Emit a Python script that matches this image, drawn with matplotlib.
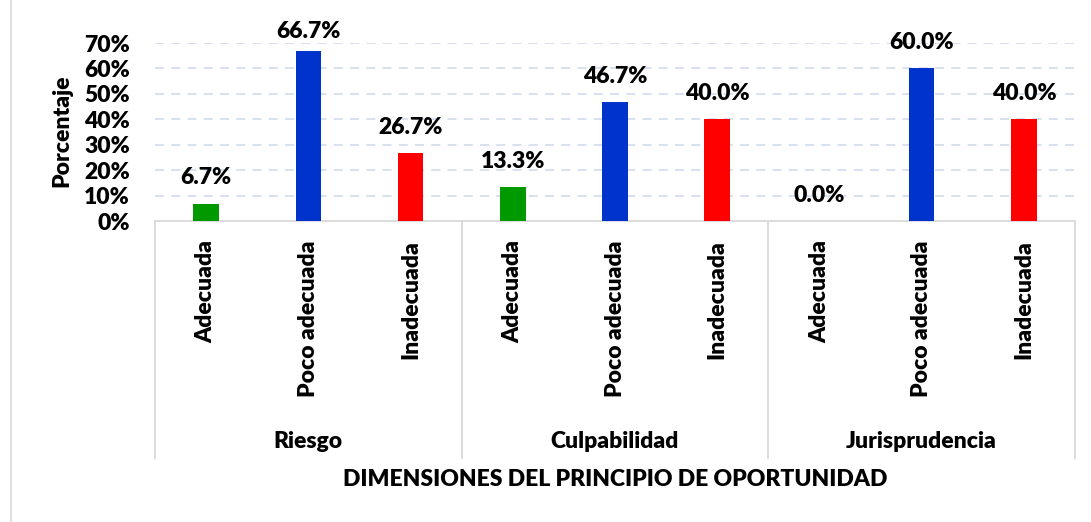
import matplotlib
matplotlib.use("Agg")
import matplotlib.pyplot as plt
from matplotlib.patches import Rectangle
import matplotlib.transforms as mtransforms

groups = ["Riesgo", "Culpabilidad", "Jurisprudencia"]
levels = ["Adecuada", "Poco adecuada", "Inadecuada"]
values = [6.7, 66.7, 26.7, 13.3, 46.7, 40.0, 0.0, 60.0, 40.0]
level_colors = ["#009900", "#0033CC", "#FF0000"]
yticks = [0, 10, 20, 30, 40, 50, 60, 70]
ylabel = "Porcentaje"
xlabel = "DIMENSIONES DEL PRINCIPIO DE OPORTUNIDAD"

plt.rcParams['font.family'] = ['Lato', 'DejaVu Sans']
FW = "heavy"
plt.rcParams['font.weight'] = FW
FS = 16.5

W, H = 1091, 522
fig = plt.figure(figsize=(W / 100, H / 100), dpi=100)
ax = fig.add_axes([155 / W, 1 - 221 / H, 920 / W, 178 / H])

# chart border
fig.patches.append(Rectangle((10.5 / W, -0.05), 1.2, 1.2, transform=fig.transFigure,
                             fill=False, edgecolor="#D9D9D9", lw=1.2))

n = len(levels)
xs = list(range(len(values)))
colors = [level_colors[i % n] for i in xs]
ax.bar(xs, values, width=0.25, color=colors, zorder=3)

YMAX = 70
px_per_unit = 178 / YMAX
label_gap = 26 / px_per_unit       # label centre above bar top
label_cap = YMAX + 11 / px_per_unit  # labels cannot rise above the chart area
for x, v in zip(xs, values):
    ax.text(x, min(v + label_gap, label_cap), f"{v:.1f}%", ha="center", va="center",
            fontsize=FS, fontweight=FW, color="black", zorder=5, clip_on=False)

ax.set_xlim(-0.5, len(values) - 0.5)
ax.set_ylim(0, YMAX)
ax.set_yticks(yticks)
ax.set_yticklabels([f"{t}%" for t in yticks], fontsize=FS, fontweight=FW)
for t in yticks[1:]:
    ax.axhline(t, color="#D5DDEE", lw=1.3, ls=(0, (5, 4)), zorder=1)

for s in ["top", "right", "left"]:
    ax.spines[s].set_visible(False)
ax.spines["bottom"].set_color("#D9D9D9")
ax.spines["bottom"].set_linewidth(1.3)
ax.tick_params(axis="y", length=0, pad=18)
ax.tick_params(axis="x", length=0, pad=14)

ax.set_xticks(xs)
ax.set_xticklabels([levels[i % n] for i in xs], rotation=90, fontsize=FS,
                   fontweight=FW, va="top", ha="center")

trans = mtransforms.blended_transform_factory(ax.transData, ax.transAxes)
sep_bottom = -(458 - 221) / 178
for k in range(len(groups) + 1):
    xsep = k * n - 0.5
    ax.plot([xsep, xsep], [0, sep_bottom], transform=trans, color="#D9D9D9",
            lw=1.3, clip_on=False)
for k, g in enumerate(groups):
    ax.text(k * n + (n - 1) / 2, -(441 - 221) / 178, g, transform=trans,
            ha="center", va="center", fontsize=FS, fontweight=FW)

fig.text(615 / W, 1 - 480 / H, xlabel, ha="center", va="center",
         fontsize=FS, fontweight=FW)
fig.text(62 / W, 1 - 131 / H, ylabel, ha="center", va="center", rotation=90,
         fontsize=FS, fontweight=FW)

fig.savefig("out.png", dpi=100)
